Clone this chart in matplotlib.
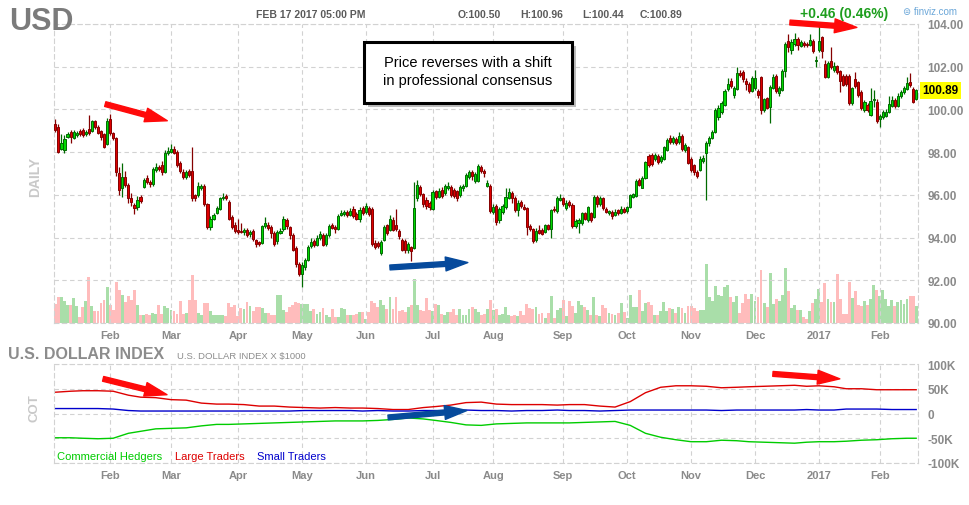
import numpy as np
import pandas as pd
import matplotlib
matplotlib.use('Agg')
import matplotlib.pyplot as plt
from matplotlib.patches import Rectangle
from matplotlib.transforms import blended_transform_factory

plt.rcParams['font.family'] = ['Liberation Sans', 'DejaVu Sans']

# trading calendar (daily candles, Jan 5 2016 - Feb 17 2017)
holidays = ['2016-01-18', '2016-02-15', '2016-03-25', '2016-05-30', '2016-07-04',
            '2016-09-05', '2016-11-24', '2016-12-26', '2017-01-02', '2017-01-16']
dates = pd.bdate_range('2016-01-05', '2017-02-17')
dates = dates[~dates.isin(pd.to_datetime(holidays))]

opens = [
    99.34, 99.19, 98.17, 98.10, 98.72, 98.95, 98.67, 98.80, 99.00, 99.02,
    98.85, 99.10, 99.00, 99.45, 99.19, 98.98, 98.83, 98.40, 99.55, 98.88,
    98.64, 97.00, 96.30, 96.84, 96.48, 95.83, 95.52, 95.44, 95.90, 96.38,
    96.80, 96.60, 96.53, 97.16, 97.31, 97.39, 97.05, 97.95, 98.02, 98.17,
    98.00, 97.47, 97.08, 96.83, 97.11, 97.11, 95.98, 95.98, 96.33, 96.42,
    95.55, 94.50, 94.86, 95.16, 95.36, 95.83, 95.95, 95.67, 94.97, 94.58,
    94.34, 94.33, 94.27, 94.34, 94.19, 94.30, 93.87, 93.77, 93.75, 94.55,
    94.61, 94.50, 94.23, 93.83, 94.22, 94.38, 94.84, 94.48, 94.10, 93.50,
    92.75, 92.30, 92.60, 92.95, 93.60, 93.85, 93.67, 94.00, 94.10, 93.70,
    94.10, 94.60, 94.50, 94.40, 95.05, 95.10, 95.20, 95.05, 95.36, 95.10,
    94.85, 95.40, 95.20, 95.39, 95.36, 93.75, 93.75, 93.28, 93.90, 94.58,
    94.37, 94.84, 94.58, 94.30, 93.90, 93.86, 93.40, 93.55, 93.52, 95.86,
    96.36, 96.02, 95.78, 95.60, 95.36, 96.17, 95.89, 96.25, 96.09, 96.30,
    96.36, 96.25, 96.17, 95.98, 96.30, 96.41, 96.83, 97.08, 96.64, 96.67,
    97.30, 97.11, 96.41, 96.41, 95.20, 95.48, 94.80, 95.20, 95.44, 95.86,
    96.09, 95.86, 95.28, 95.67, 95.44, 95.39, 94.55, 94.38, 93.88, 94.34,
    94.34, 94.27, 94.58, 94.42, 95.36, 95.23, 95.75, 95.83, 95.39, 95.67,
    95.52, 94.53, 94.70, 94.66, 95.13, 94.81, 95.13, 94.97, 95.91, 95.55,
    95.83, 95.36, 95.16, 95.20, 95.05, 95.28, 95.13, 95.36, 95.23, 95.44,
    95.91, 95.95, 96.69, 96.33, 96.77, 97.83, 97.86, 97.70, 97.83, 97.60,
    97.70, 98.09, 98.64, 98.48, 98.60, 98.48, 98.77, 98.09, 98.25, 97.66,
    97.39, 97.08, 97.16, 97.58, 97.94, 98.41, 98.64, 98.95, 99.66, 99.90,
    100.20, 100.95, 101.34, 100.69, 100.95, 101.70, 101.77, 101.34, 101.20, 100.84,
    100.98, 100.86, 101.50, 99.97, 100.52, 100.12, 101.00, 101.58, 100.77, 100.90,
    101.80, 103.19, 102.78, 103.06, 103.30, 102.98, 103.10, 103.06, 103.00, 103.22,
    102.25, 102.78, 103.40, 102.12, 101.53, 102.28, 101.84, 102.05, 101.80, 101.58,
    101.58, 101.58, 100.28, 101.42, 101.27, 100.80, 99.97, 100.23, 99.75, 100.45,
    100.36, 99.55, 99.66, 99.70, 99.90, 100.17, 100.45, 100.17, 100.64, 100.80,
    100.95, 101.30, 100.95, 100.50]

highs = [
    99.55, 99.30, 98.83, 98.80, 98.95, 99.05, 99.05, 99.00, 99.10, 99.15,
    99.05, 99.75, 99.50, 99.50, 99.25, 99.05, 98.90, 99.60, 99.80, 98.95,
    98.70, 97.30, 97.50, 97.10, 96.55, 96.10, 95.60, 95.95, 96.00, 96.80,
    96.95, 96.70, 97.30, 97.50, 97.40, 97.60, 98.10, 98.25, 98.40, 98.30,
    98.10, 97.60, 97.20, 97.15, 97.20, 98.25, 96.05, 96.60, 96.50, 96.50,
    95.60, 95.00, 95.15, 95.50, 95.90, 96.10, 96.05, 95.75, 95.05, 94.75,
    94.85, 94.70, 94.45, 94.45, 94.35, 94.40, 93.95, 93.85, 94.60, 94.95,
    94.75, 94.60, 94.30, 94.35, 94.45, 95.00, 94.90, 94.55, 94.20, 93.60,
    92.85, 92.85, 93.05, 93.65, 94.00, 93.95, 94.10, 94.30, 94.20, 94.20,
    94.65, 94.70, 94.60, 95.10, 95.30, 95.30, 95.30, 95.40, 95.50, 95.20,
    95.45, 95.50, 95.60, 95.50, 95.45, 93.90, 93.85, 93.90, 94.60, 94.65,
    95.05, 94.95, 95.36, 94.40, 94.00, 93.95, 93.80, 93.60, 96.60, 96.70,
    96.45, 96.10, 95.90, 95.70, 96.25, 96.25, 96.30, 96.35, 96.50, 96.60,
    96.45, 96.30, 96.25, 96.45, 96.50, 97.00, 97.15, 97.15, 97.05, 97.45,
    97.40, 97.20, 96.70, 96.50, 95.55, 95.55, 95.45, 95.55, 96.30, 96.30,
    96.20, 95.95, 95.75, 95.75, 95.55, 95.45, 94.65, 94.45, 94.45, 94.60,
    94.45, 94.65, 94.65, 95.35, 95.50, 95.95, 96.05, 95.90, 95.75, 95.75,
    95.60, 94.85, 94.90, 95.20, 95.20, 95.50, 95.20, 96.00, 96.00, 95.95,
    95.90, 95.45, 95.30, 95.30, 95.35, 95.35, 95.50, 95.45, 95.50, 96.05,
    96.10, 96.75, 96.80, 96.90, 97.60, 97.90, 97.95, 97.95, 97.90, 97.85,
    98.30, 98.65, 98.80, 98.75, 98.70, 98.95, 98.85, 98.45, 98.30, 97.75,
    97.45, 97.15, 97.80, 97.85, 98.50, 98.75, 99.05, 100.05, 100.20, 100.40,
    100.95, 101.48, 101.45, 101.10, 102.00, 101.85, 101.85, 101.45, 101.30, 101.55,
    101.84, 100.95, 101.55, 100.55, 100.60, 101.15, 101.65, 101.65, 101.10, 101.90,
    103.15, 103.55, 103.30, 103.60, 103.40, 103.25, 103.20, 103.15, 103.55, 103.30,
    102.50, 103.90, 103.45, 102.30, 102.25, 102.90, 102.20, 102.10, 101.85, 101.65,
    101.65, 101.65, 101.05, 101.75, 101.35, 100.90, 100.45, 100.30, 101.00, 100.90,
    100.50, 99.80, 99.95, 100.00, 100.65, 100.65, 100.55, 100.75, 100.90, 101.10,
    101.50, 101.70, 101.05, 100.96]

lows = [
    98.95, 97.98, 98.10, 97.95, 98.65, 98.45, 98.60, 98.70, 98.75, 98.72,
    98.75, 98.80, 98.95, 99.10, 98.85, 98.55, 98.20, 98.35, 98.80, 98.55,
    96.90, 96.00, 95.90, 96.35, 95.60, 95.50, 95.10, 95.30, 95.60, 96.30,
    96.50, 96.35, 96.40, 97.05, 97.10, 96.95, 97.00, 97.85, 97.95, 97.90,
    97.30, 97.00, 96.75, 96.75, 96.85, 95.70, 95.70, 95.90, 96.25, 95.50,
    94.40, 94.35, 94.80, 95.10, 95.30, 95.75, 95.75, 94.80, 94.40, 94.20,
    94.15, 94.20, 94.10, 94.05, 94.05, 93.85, 93.55, 93.60, 93.70, 94.45,
    94.35, 94.00, 93.60, 93.70, 94.15, 94.30, 94.40, 93.95, 93.35, 92.60,
    92.20, 91.67, 92.50, 92.90, 93.50, 93.55, 93.60, 93.90, 93.60, 93.60,
    94.05, 94.40, 94.20, 94.35, 95.00, 95.00, 94.95, 95.00, 94.90, 94.80,
    94.75, 95.05, 95.10, 95.00, 93.60, 93.45, 93.50, 93.20, 93.85, 94.10,
    94.30, 94.30, 94.30, 93.95, 93.35, 93.30, 93.30, 92.90, 93.45, 95.70,
    95.95, 95.45, 95.35, 95.30, 95.30, 95.80, 95.85, 95.85, 96.00, 96.25,
    95.90, 95.85, 95.70, 95.90, 96.20, 96.35, 96.75, 96.70, 96.55, 96.60,
    97.00, 96.85, 96.35, 95.15, 95.10, 94.60, 94.70, 95.10, 95.35, 95.80,
    95.60, 95.20, 95.00, 95.40, 95.30, 94.10, 94.30, 93.75, 93.80, 94.15,
    94.10, 94.20, 94.35, 93.98, 95.20, 95.15, 95.70, 95.50, 95.30, 95.45,
    94.45, 94.45, 94.20, 94.60, 94.80, 94.75, 94.75, 94.90, 95.45, 95.50,
    95.30, 95.15, 95.05, 94.85, 95.00, 95.05, 95.10, 95.15, 95.15, 95.40,
    95.85, 95.90, 96.40, 96.30, 96.75, 97.30, 97.35, 97.60, 97.45, 97.50,
    97.65, 98.05, 98.40, 98.40, 98.35, 98.40, 98.05, 98.00, 97.45, 97.05,
    96.95, 96.80, 97.10, 97.50, 95.75, 98.30, 98.60, 98.90, 99.50, 99.80,
    100.15, 100.85, 101.00, 100.55, 100.90, 101.50, 101.30, 100.90, 100.75, 100.80,
    100.90, 100.55, 99.80, 99.90, 100.00, 99.35, 100.95, 100.75, 100.65, 100.85,
    101.50, 102.70, 102.60, 102.95, 102.80, 102.90, 102.90, 102.90, 102.95, 102.65,
    102.00, 102.70, 102.40, 101.45, 101.45, 101.90, 101.75, 101.65, 100.80, 101.10,
    101.10, 100.20, 100.20, 101.00, 100.60, 99.95, 99.90, 99.90, 99.70, 100.10,
    99.35, 99.20, 99.55, 99.65, 99.85, 100.10, 100.05, 100.10, 100.55, 100.70,
    100.90, 101.05, 100.30, 100.44]

closes = [
    99.03, 98.02, 98.41, 98.60, 98.83, 98.72, 98.95, 98.90, 98.83, 98.80,
    98.95, 98.88, 99.45, 99.19, 98.90, 98.70, 98.25, 99.45, 98.88, 98.67,
    97.08, 96.22, 96.84, 96.45, 95.83, 95.67, 95.39, 95.78, 95.72, 96.69,
    96.58, 96.52, 97.20, 97.31, 97.20, 97.05, 97.97, 98.05, 98.17, 97.98,
    97.39, 97.11, 96.83, 97.05, 96.95, 95.83, 95.86, 96.42, 96.42, 95.59,
    94.50, 94.86, 95.08, 95.39, 95.83, 95.90, 95.83, 94.86, 94.50, 94.30,
    94.27, 94.27, 94.34, 94.14, 94.27, 93.95, 93.69, 93.69, 94.53, 94.66,
    94.45, 94.20, 93.70, 94.25, 94.33, 94.88, 94.53, 94.14, 93.44, 92.75,
    92.30, 92.70, 92.95, 93.55, 93.80, 93.67, 94.00, 94.17, 93.67, 94.10,
    94.52, 94.47, 94.40, 95.03, 95.17, 95.20, 95.05, 95.25, 95.02, 94.88,
    95.30, 95.17, 95.50, 95.11, 93.70, 93.55, 93.60, 93.80, 94.48, 94.22,
    94.89, 94.37, 94.42, 94.06, 93.44, 93.40, 93.70, 93.35, 95.39, 96.48,
    96.05, 95.55, 95.47, 95.42, 96.14, 95.89, 96.20, 95.94, 96.41, 96.41,
    95.98, 95.94, 95.83, 96.36, 96.41, 96.92, 97.06, 96.88, 96.98, 97.34,
    97.11, 97.03, 96.55, 95.23, 95.44, 94.73, 95.36, 95.48, 95.91, 96.14,
    95.83, 95.31, 95.64, 95.48, 95.36, 94.50, 94.39, 93.83, 94.30, 94.22,
    94.19, 94.58, 94.42, 95.28, 95.28, 95.83, 95.83, 95.59, 95.64, 95.52,
    94.53, 94.77, 94.81, 95.13, 94.86, 95.44, 94.81, 95.91, 95.55, 95.86,
    95.39, 95.20, 95.23, 95.00, 95.20, 95.13, 95.36, 95.20, 95.44, 95.98,
    96.02, 96.64, 96.45, 96.80, 97.55, 97.39, 97.45, 97.86, 97.55, 97.75,
    98.25, 98.56, 98.48, 98.64, 98.45, 98.77, 98.13, 98.33, 97.50, 97.16,
    97.08, 96.89, 97.66, 97.73, 98.41, 98.64, 98.95, 99.97, 100.08, 100.30,
    100.86, 101.20, 101.10, 101.00, 101.69, 101.60, 101.42, 101.20, 100.84, 101.45,
    101.45, 100.67, 99.97, 100.48, 100.09, 101.05, 101.53, 100.88, 101.00, 101.78,
    103.06, 102.90, 103.14, 103.30, 103.03, 103.14, 103.00, 103.00, 103.25, 102.72,
    102.30, 103.22, 102.72, 101.53, 102.17, 101.97, 102.05, 101.73, 101.34, 101.16,
    101.19, 100.28, 100.98, 101.10, 100.69, 100.06, 100.36, 99.97, 100.39, 100.50,
    99.44, 99.70, 99.86, 99.90, 100.27, 100.45, 100.17, 100.64, 100.80, 100.98,
    101.22, 101.14, 100.36, 100.89]

volumes = [
    19, 26, 26, 22, 18, 18, 25, 17, 6, 16,
    22, 45, 17, 12, 12, 20, 23, 35, 18, 13,
    40, 32, 28, 21, 27, 23, 32, 18, 8, 8,
    9, 8, 10, 9, 18, 9, 17, 15, 13, 12,
    9, 22, 9, 10, 23, 47, 23, 10, 8, 20,
    20, 12, 8, 8, 8, 8, 7, 20, 16, 18,
    7, 15, 14, 21, 17, 12, 16, 16, 15, 10,
    10, 8, 8, 28, 28, 13, 11, 16, 18, 21,
    20, 19, 19, 19, 12, 14, 9, 11, 15, 8,
    6, 14, 6, 6, 15, 14, 8, 8, 8, 9,
    11, 11, 4, 11, 22, 20, 16, 23, 18, 14,
    26, 14, 26, 12, 13, 11, 16, 18, 43, 18,
    13, 12, 25, 13, 12, 19, 18, 9, 8, 11,
    11, 14, 8, 14, 8, 8, 14, 16, 14, 11,
    8, 9, 14, 23, 13, 14, 8, 9, 16, 8,
    7, 8, 7, 12, 8, 19, 15, 14, 16, 9,
    10, 5, 10, 27, 5, 13, 15, 23, 7, 22,
    17, 10, 22, 18, 16, 13, 8, 26, 8, 7,
    18, 15, 10, 9, 8, 10, 20, 11, 5, 28,
    16, 16, 32, 12, 20, 21, 18, 8, 8, 12,
    21, 12, 15, 14, 10, 16, 15, 10, 17, 17,
    15, 12, 13, 13, 58, 26, 22, 36, 28, 27,
    35, 37, 26, 21, 27, 10, 20, 29, 24, 29,
    22, 26, 52, 20, 16, 49, 19, 24, 22, 28,
    54, 31, 15, 18, 13, 13, 6, 4, 12, 20,
    24, 33, 21, 39, 24, 21, 21, 48, 24, 9,
    9, 40, 25, 31, 18, 17, 22, 18, 24, 37,
    32, 27, 32, 24, 17, 23, 17, 21, 23, 19,
    24, 27, 27, 17]

month_labels = ['Feb', 'Mar', 'Apr', 'May', 'Jun', 'Jul', 'Aug', 'Sep', 'Oct',
                'Nov', 'Dec', '2017', 'Feb']
price_ticks = [90, 92, 94, 96, 98, 100, 102, 104]

# COT net positions (thousands of contracts), weekly Tuesday reports + last day
cot_dates = pd.date_range('2016-01-05', '2017-02-14', freq='W-TUE')
commercial = [-49, -49, -50, -51, -50, -40, -36, -31, -30, -29, -25, -22, -22,
              -21, -20, -19, -18, -17, -16, -15, -15, -15, -14, -12, -9, -11,
              -14, -18, -23, -24, -21, -20, -19, -19, -19, -19, -18, -17, -16,
              -24, -40, -48, -53, -57, -57, -54, -55, -57, -58, -59, -60, -58,
              -57, -57, -56, -54, -53, -51, -50, -50]
large = [43, 45, 46, 46, 45, 37, 33, 32, 28, 27, 21, 19, 19,
         18, 15, 15, 13, 12, 11, 12, 11, 11, 10, 8, 8, 12,
         14, 17, 22, 23, 19, 18, 18, 18, 17, 18, 18, 15, 13,
         24, 42, 53, 56, 56, 55, 52, 53, 54, 55, 56, 57, 55,
         56, 54, 50, 50, 48, 48, 48, 48]
small = [10, 10, 10, 10, 9, 6, 5, 5, 5, 5, 5, 5, 5,
         5, 5, 5, 5, 6, 6, 6, 6, 5, 6, 5, 5, 6,
         6, 6, 7, 6, 6, 5, 6, 6, 7, 6, 6, 5, 6,
         7, 7, 7, 7, 7, 7, 6, 7, 7, 7, 7, 7, 8,
         7, 7, 9, 9, 9, 8, 8, 8]

n = len(dates)
assert len(opens) == len(highs) == len(lows) == len(closes) == len(volumes) == n
o, h, l, c = map(np.array, (opens, highs, lows, closes))
x = np.arange(n)
up = c >= o

months = dates.to_period('M')
month_starts = [i for i in range(1, n) if months[i] != months[i - 1]]
cot_x = list(dates.get_indexer(cot_dates)) + [n - 1]

W, H = 969, 506
fig = plt.figure(figsize=(W / 100, H / 100), dpi=100)


def box(x0, y0, x1, y1):
    return [x0 / W, 1 - y1 / H, (x1 - x0) / W, (y1 - y0) / H]


GRID = '#d2d2d2'
DASH = (0, (4, 3))
LABEL = '#8a8a8a'


def style(a):
    for s in a.spines.values():
        s.set_linestyle(DASH)
        s.set_color(GRID)
        s.set_linewidth(0.8)
    a.grid(True, color=GRID, linestyle=DASH, linewidth=0.8)
    a.tick_params(length=0, colors=LABEL, labelsize=8, pad=5)
    a.yaxis.tick_right()
    a.set_xlim(-0.45, n - 0.4)
    a.set_xticks(month_starts)
    a.set_xticklabels(month_labels, fontweight='bold')


# ---- price panel ----
ax = fig.add_axes(box(54, 25, 918, 324))
axv = ax.twinx()
axv.bar(x, volumes, width=0.95, color=np.where(up, '#a9dea9', '#ffbcbc'), linewidth=0)
axv.set_ylim(0, max(volumes) * 299 / 59)
axv.set_yticks([])
for s in axv.spines.values():
    s.set_visible(False)
ax.set_zorder(2)
axv.set_zorder(1)
ax.patch.set_visible(False)

edge = np.where(up, '#006a00', '#850000')
fill = np.where(up, '#00d800', '#dd0000')
ax.vlines(x, l, h, colors=edge, linewidth=0.9, zorder=2)
ax.bar(x, np.maximum(np.abs(c - o), 0.03), bottom=np.minimum(o, c), width=0.7,
       color=fill, edgecolor=edge, linewidth=0.7, zorder=3)
style(ax)
ax.set_ylim(90, 104)
ax.set_yticks(price_ticks)
ax.set_yticklabels([f'{v:.2f}' for v in price_ticks], fontweight='bold')
ax.tick_params(axis='y', labelsize=8.5, pad=7)

ax.text(1.005, closes[-1], f'{closes[-1]:.2f}',
        transform=blended_transform_factory(ax.transAxes, ax.transData),
        ha='left', va='center', fontsize=8.5, fontweight='bold', color='black',
        bbox=dict(facecolor='#ffff00', edgecolor='none', pad=1.8), zorder=5)

# ---- COT panel ----
ax2 = fig.add_axes(box(54, 365, 918, 464))
ax2.plot(cot_x, commercial, color='#00cc00', linewidth=1.0)
ax2.plot(cot_x, large, color='#dd0000', linewidth=1.0)
ax2.plot(cot_x, small, color='#0000cc', linewidth=1.0)
style(ax2)
ax2.set_ylim(-100, 100)
ax2.set_yticks([-100, -50, 0, 50, 100])
ax2.set_yticklabels(['-100K', '-50K', '0', '50K', '100K'], fontweight='bold')
ax2.tick_params(axis='y', labelsize=8.5, pad=7)


def arrow(a, tail, tip, color):
    a.annotate('', xy=tip, xytext=tail, annotation_clip=False, zorder=6,
               arrowprops=dict(arrowstyle='simple,head_width=1.0,head_length=1.6,tail_width=0.35',
                               color=color, mutation_scale=10, shrinkA=0, shrinkB=0))


RED, BLUE = '#ff0a0a', '#064a9c'
arrow(ax, (16.4, 100.25), (36.8, 99.47), RED)
arrow(ax, (241.5, 104.07), (263.5, 103.84), RED)
arrow(ax, (110.0, 92.60), (135.6, 92.83), BLUE)
arrow(ax2, (15.7, 70), (36.7, 38), RED)
arrow(ax2, (109.4, -8), (135.3, 6), BLUE)
arrow(ax2, (235.9, 80), (257.9, 70), RED)


def ftext(px, py, s, **kw):
    fig.text(px / W, 1 - py / H, s, **kw)


# header
ftext(9, 22, 'USD', fontsize=22, fontweight='bold', color='#7b7b7b', va='center')
ftext(256, 15, 'FEB 17 2017 05:00 PM', fontsize=7.5, fontweight='bold', color='#5a5a5a', va='center')
for px, s in zip([458, 520, 582, 640], ['O:100.50', 'H:100.96', 'L:100.44', 'C:100.89']):
    ftext(px, 15, s, fontsize=7.5, fontweight='bold', color='#5a5a5a', va='center')
ftext(800, 14, '+0.46 (0.46%)', fontsize=10, fontweight='bold', color='#1e9e1e', va='center')
ftext(903, 12, '\u229c finviz.com', fontsize=7, color='#6aa6d8', va='center')

ftext(35, 177, 'DAILY', fontsize=10, fontweight='bold', color='#c9c9c9',
      rotation=90, ha='center', va='center')
ftext(35, 408, 'COT', fontsize=9.5, fontweight='bold', color='#c9c9c9',
      rotation=90, ha='center', va='center')
ftext(8, 355, 'U.S. DOLLAR INDEX', fontsize=11.5, fontweight='bold', color='#8c8c8c', va='center')
ftext(177, 357, 'U.S. DOLLAR INDEX X $1000', fontsize=6.8, color='#8c8c8c', va='center')
ftext(57, 457, 'Commercial Hedgers', fontsize=8, color='#00cc00', va='center')
ftext(175, 457, 'Large Traders', fontsize=8, color='#dd0000', va='center')
ftext(257, 457, 'Small Traders', fontsize=8, color='#0000cc', va='center')

# callout box with shadow
bx0, by0, bx1, by1 = 364, 43, 572, 104
fig.add_artist(Rectangle(((bx0 + 4) / W, 1 - (by1 + 4) / H), (bx1 - bx0) / W, (by1 - by0) / H,
                         transform=fig.transFigure, facecolor='#a0a0a0', edgecolor='none',
                         alpha=0.7, zorder=8))
fig.add_artist(Rectangle((bx0 / W, 1 - by1 / H), (bx1 - bx0) / W, (by1 - by0) / H,
                         transform=fig.transFigure, facecolor='white', edgecolor='black',
                         linewidth=2.2, zorder=9))
ftext((bx0 + bx1) / 2, 72, 'Price reverses with a shift\nin professional consensus',
      fontsize=10.5, color='black', ha='center', va='center', linespacing=1.45, zorder=10)

fig.savefig('out.png', dpi=100)
